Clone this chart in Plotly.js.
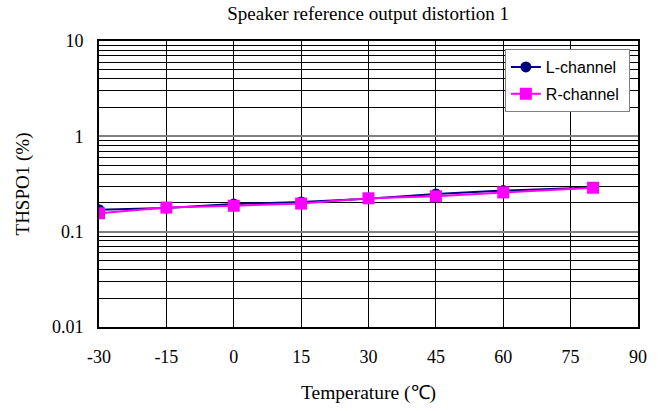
<!DOCTYPE html>
<html>
<head>
<meta charset="utf-8">
<script src="https://cdn.plot.ly/plotly-3.0.1.min.js"></script>
<style>html,body{margin:0;padding:0;background:#fff;}#chart{width:661px;height:411px;}</style>
</head>
<body>
<div id="chart"></div>
<script>
const temps = [-30, -15, 0, 15, 30, 45, 60, 80];
const lChannel = [0.170, 0.177, 0.195, 0.205, 0.222, 0.249, 0.270, 0.290];
const rChannel = [0.156, 0.179, 0.187, 0.197, 0.224, 0.235, 0.258, 0.289];
const xTicks = [-30, -15, 0, 15, 30, 45, 60, 75, 90];
const xTickText = ['-30', '-15', '0', '15', '30', '45', '60', '75', '90'];
const yTicks = [0.01, 0.1, 1, 10];
const yTickText = ['0.01', '0.1', '1', '10'];
const yMinor = [];
[0.01, 0.1, 1].forEach(d => { for (let k = 2; k <= 9; k++) yMinor.push(+(d * k).toPrecision(3)); });

const serif = 'Liberation Serif, Times New Roman, serif';
const traces = [
  {x: temps, y: lChannel, name: 'L-channel\u00a0', mode: 'lines+markers', legendgroup: 'l',
   line: {color: '#000080', width: 2}, marker: {color: '#000080', symbol: 'circle', size: 11}},
  {x: temps, y: rChannel, name: 'R-channel\u00a0', mode: 'lines+markers', legendgroup: 'r',
   line: {color: '#ff00ff', width: 2}, marker: {color: '#ff00ff', symbol: 'square', size: 12}}
];
const layout = {
  width: 661, height: 411,
  margin: {l: 99, r: 23, t: 41, b: 84},
  paper_bgcolor: '#fff', plot_bgcolor: '#fff',
  title: {text: 'Speaker reference output distortion 1', font: {family: serif, size: 19, color: '#000'},
          x: 0.557, xanchor: 'center', y: 0.968, yanchor: 'middle'},
  xaxis: {range: [-30, 90], tickmode: 'array', tickvals: xTicks, ticktext: xTickText, showgrid: true, gridcolor: '#000', gridwidth: 1,
          zeroline: false, showline: true, linecolor: '#000', linewidth: 2, mirror: true, ticks: '',
          tickfont: {family: serif, size: 18, color: '#000'}, ticklabelstandoff: 12,
          title: {text: 'Temperature (℃)', font: {family: serif, size: 19.5, color: '#000'}, standoff: 20}},
  yaxis: {type: 'log', range: [-2, 1], tickmode: 'array', tickvals: yTicks, ticktext: yTickText,
          showgrid: true, gridcolor: '#808080', gridwidth: 2, zeroline: false,
          showline: true, linecolor: '#000', linewidth: 2, mirror: true, ticks: '',
          tickfont: {family: serif, size: 18, color: '#000'}, ticklabelstandoff: 10,
          minor: {tickmode: 'array', tickvals: yMinor, showgrid: true, gridcolor: '#000', gridwidth: 1, ticks: ''},
          title: {text: 'THSPO1 (%)', font: {family: serif, size: 19, color: '#000'}, standoff: 17}},
  legend: {x: 0.753, y: 0.972, xanchor: 'left', yanchor: 'top', bgcolor: '#fff', bordercolor: '#808080', borderwidth: 1,
           font: {family: 'Liberation Sans, Arial, sans-serif', size: 16, color: '#000'}, tracegroupgap: 3},
  showlegend: true
};
Plotly.newPlot('chart', traces, layout, {displayModeBar: false, staticPlot: true});
</script>
</body>
</html>
